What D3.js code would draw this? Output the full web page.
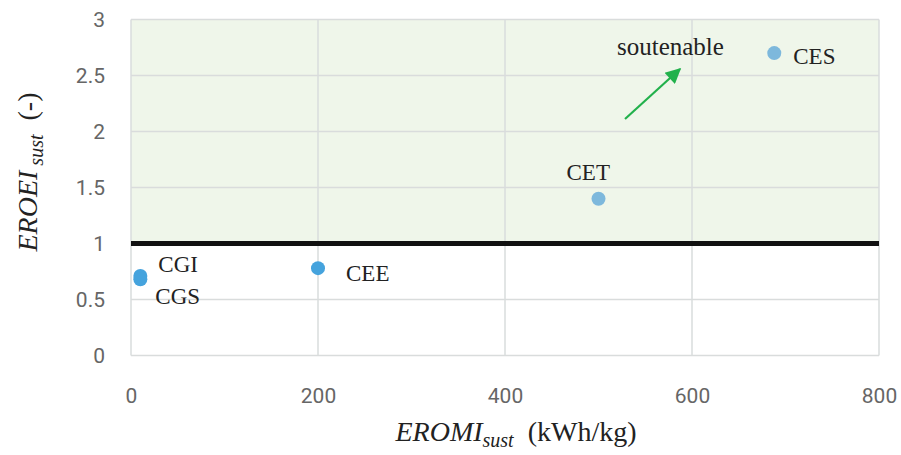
<!DOCTYPE html>
<html>
<head>
<meta charset="utf-8">
<script src="https://cdn.jsdelivr.net/npm/d3@7"></script>
<style>
  html, body { margin: 0; padding: 0; background: #fff; }
  svg { display: block; }
  .tick text { font-family: "Roboto", "Liberation Sans", sans-serif; font-size: 21px; fill: #666; }
  .lbl { font-family: "Liberation Serif", "Times New Roman", serif; fill: #222; }
</style>
</head>
<body>
<svg id="chart" width="901" height="455"></svg>
<script>
// Points: EROMI_sust (kWh/kg) vs EROEI_sust (-)
const names = ["CGI", "CGS", "CEE", "CET", "CES"];
const eromi = [10, 10, 200, 500, 688];
const eroei = [0.71, 0.68, 0.78, 1.40, 2.70];
const pointColors = ["#45a3dd", "#45a3dd", "#45a3dd", "#7db8dc", "#7db8dc"];
const xTicks = [0, 200, 400, 600, 800];
const yTicks = [0, 0.5, 1, 1.5, 2, 2.5, 3];
const threshold = 1;

const svg = d3.select("#chart");
const m = { left: 131, right: 22, top: 19.5, bottom: 99.5 };
const W = 901, H = 455;

const x = d3.scaleLinear().domain([0, 800]).range([m.left, W - m.right]);
const y = d3.scaleLinear().domain([0, 3]).range([H - m.bottom, m.top]);

// sustainable zone above the threshold
svg.append("rect")
  .attr("x", x(0)).attr("y", y(3))
  .attr("width", x(800) - x(0)).attr("height", y(threshold) - y(3))
  .attr("fill", "#eff6ea");

// gridlines
svg.append("g").selectAll("line").data(yTicks).join("line")
  .attr("x1", x(0)).attr("x2", x(800))
  .attr("y1", d => y(d)).attr("y2", d => y(d))
  .attr("stroke", "#d9dcdc").attr("stroke-width", 1.5);
svg.append("g").selectAll("line").data(xTicks).join("line")
  .attr("y1", y(0)).attr("y2", y(3))
  .attr("x1", d => x(d)).attr("x2", d => x(d))
  .attr("stroke", "#d9dcdc").attr("stroke-width", 1.5);

// axes (labels only)
const xAxis = svg.append("g").attr("transform", `translate(0,${y(0)})`)
  .call(d3.axisBottom(x).tickValues(xTicks).tickSize(0).tickPadding(33).tickFormat(d3.format("d")));
xAxis.select(".domain").remove();
const yAxis = svg.append("g").attr("transform", `translate(${x(0)},0)`)
  .call(d3.axisLeft(y).tickValues(yTicks).tickSize(0).tickPadding(26).tickFormat(d => String(d)));
yAxis.select(".domain").remove();

// threshold line
svg.append("line")
  .attr("x1", x(0)).attr("x2", x(800))
  .attr("y1", y(threshold)).attr("y2", y(threshold))
  .attr("stroke", "#111").attr("stroke-width", 5);

// points
const pts = names.map((n, i) => ({ n, x: eromi[i], y: eroei[i], c: pointColors[i] }));
svg.append("g").selectAll("circle").data(pts).join("circle")
  .attr("cx", d => x(d.x)).attr("cy", d => y(d.y)).attr("r", 7)
  .attr("fill", d => d.c);

// point labels
const labelOffsets = { CGI: [18, -4], CGS: [15, 25], CEE: [28, 13], CET: [-32, -19], CES: [19, 11] };
svg.append("g").selectAll("text").data(pts).join("text")
  .attr("class", "lbl")
  .attr("x", d => x(d.x) + labelOffsets[d.n][0])
  .attr("y", d => y(d.y) + labelOffsets[d.n][1])
  .attr("font-size", 23)
  .text(d => d.n);

// arrow toward the sustainable region
const defs = svg.append("defs");
defs.append("marker").attr("id", "arrowhead")
  .attr("viewBox", "0 0 10 10").attr("refX", 9).attr("refY", 5)
  .attr("markerWidth", 8).attr("markerHeight", 7).attr("markerUnits", "strokeWidth")
  .attr("orient", "auto")
  .append("path").attr("d", "M0,0 L10,5 L0,10 Z").attr("fill", "#22b14c");
svg.append("line")
  .attr("x1", 625).attr("y1", 119).attr("x2", 680).attr("y2", 69)
  .attr("stroke", "#22b14c").attr("stroke-width", 2.2)
  .attr("marker-end", "url(#arrowhead)");
svg.append("text").attr("class", "lbl")
  .attr("x", 617).attr("y", 55).attr("font-size", 25)
  .text("soutenable");

// axis titles
const xt = svg.append("text").attr("class", "lbl")
  .attr("x", 516).attr("y", 441).attr("text-anchor", "middle").attr("font-size", 28);
xt.append("tspan").attr("font-style", "italic").text("EROMI");
xt.append("tspan").attr("font-style", "italic").attr("font-size", 20).attr("dy", 6).text("sust");
xt.append("tspan").attr("dy", -6).text("\u00a0\u00a0(kWh/kg)");

const yt = svg.append("text").attr("class", "lbl")
  .attr("transform", "translate(37,172) rotate(-90)")
  .attr("text-anchor", "middle").attr("font-size", 28);
yt.append("tspan").attr("font-style", "italic").text("EROEI");
yt.append("tspan").attr("font-style", "italic").attr("font-size", 20).attr("dy", 6).text("\u00a0sust");
yt.append("tspan").attr("dy", -6).text("\u00a0\u00a0(-)");
</script>
</body>
</html>
